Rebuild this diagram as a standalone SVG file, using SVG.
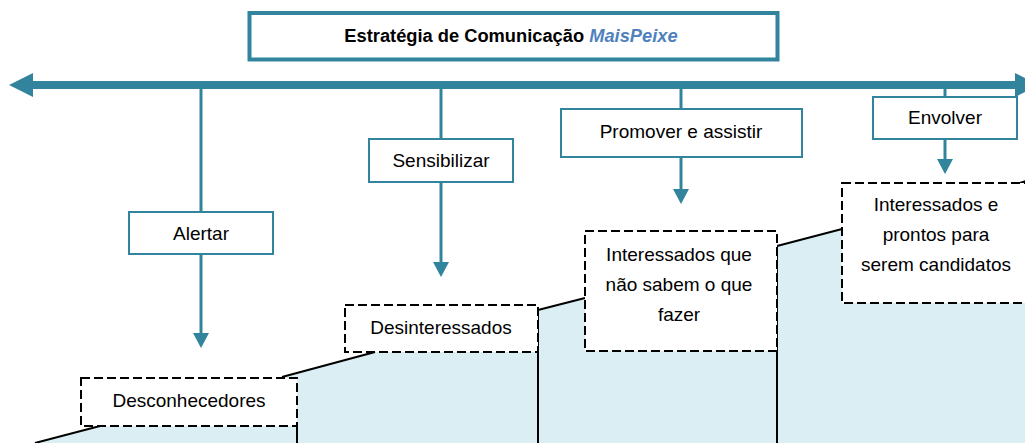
<svg xmlns="http://www.w3.org/2000/svg" width="1025" height="443" viewBox="0 0 1025 443">
<style>
.t{font-family:"Liberation Sans",Arial,sans-serif;font-size:19px;fill:#000;text-anchor:middle}
.tb{font-weight:bold;font-size:18.3px}
.mp{fill:#4F81BD;font-style:italic}
.sbox{fill:#fff;stroke:#31849B;stroke-width:2}
.dbox{fill:#fff;stroke:#000;stroke-width:2;stroke-dasharray:9 4}
.con{stroke:#31849B;stroke-width:3;fill:none}
.step{stroke:#000;stroke-width:2;fill:none}
</style>
<defs>
<marker id="ah" markerUnits="userSpaceOnUse" markerWidth="15" markerHeight="16" viewBox="0 0 15 16" refX="0" refY="8" orient="auto">
<path d="M0,0 L15,8 L0,16 Z" fill="#31849B"/>
</marker>
</defs>
<rect width="1025" height="443" fill="#fff"/>
<g id="steps">
<polygon fill="#DAEEF3" points="35,443 100,426 282,426 282,377 375,352 538,352 538,310 585,298 777,298 777,246 842,229 1020,229 1020,183 1025,181 1025,443"/>
<path class="step" d="M35,443 L100,426 M297,426 V443 M282,377 L375,352 M538,310 V443 M538,310 L585,298 M777,246 V443 M777,246 L842,229 M1020,183 L1026,181"/>
</g>
<g id="connectors">
<rect x="33" y="81" width="982" height="8" fill="#31849B"/>
<polygon points="9,85 33,73 33,97" fill="#31849B"/>
<polygon points="1015,73 1039,85 1015,97" fill="#31849B"/>
<line class="con" x1="201" y1="89" x2="201" y2="212"/>
<line class="con" x1="201" y1="254" x2="201" y2="333" marker-end="url(#ah)"/>
<line class="con" x1="441" y1="89" x2="441" y2="139"/>
<line class="con" x1="441" y1="182" x2="441" y2="262" marker-end="url(#ah)"/>
<line class="con" x1="681" y1="89" x2="681" y2="109"/>
<line class="con" x1="681" y1="157" x2="681" y2="189" marker-end="url(#ah)"/>
<line class="con" x1="945" y1="89" x2="945" y2="97"/>
<line class="con" x1="945" y1="139" x2="945" y2="159" marker-end="url(#ah)"/>
<line x1="1017" y1="89" x2="1017" y2="97" stroke="#31849B" stroke-width="2"/>
</g>
<g id="title">
<rect x="249.5" y="13" width="528" height="46.5" fill="#fff" stroke="#31849B" stroke-width="4"/>
<text class="t tb" x="511" y="42">Estratégia de Comunicação <tspan class="mp">MaisPeixe</tspan></text>
</g>
<g id="alertar">
<rect class="sbox" x="129" y="212" width="144" height="42"/>
<text class="t" x="201" y="240">Alertar</text>
</g>
<g id="sensibilizar">
<rect class="sbox" x="369" y="139" width="144" height="43"/>
<text class="t" x="441" y="167">Sensibilizar</text>
</g>
<g id="promover">
<rect class="sbox" x="561" y="109" width="241" height="48"/>
<text class="t" x="681" y="138">Promover e assistir</text>
</g>
<g id="envolver">
<rect class="sbox" x="873" y="97" width="144" height="42"/>
<text class="t" x="945" y="124">Envolver</text>
</g>
<g id="desconhecedores">
<rect class="dbox" x="81" y="378" width="216" height="48"/>
<text class="t" x="189" y="407">Desconhecedores</text>
</g>
<g id="desinteressados">
<rect class="dbox" x="345" y="305" width="193" height="47"/>
<text class="t" x="441" y="334">Desinteressados</text>
</g>
<g id="interessados-que">
<rect class="dbox" x="585" y="231" width="192" height="120"/>
<text class="t" x="679" y="261">Interessados que</text>
<text class="t" x="679" y="291">não sabem o que</text>
<text class="t" x="679" y="321">fazer</text>
</g>
<g id="interessados-prontos">
<rect class="dbox" x="842" y="183" width="186" height="120"/>
<text class="t" x="936" y="211">Interessados e</text>
<text class="t" x="936" y="241">prontos para</text>
<text class="t" x="936" y="271">serem candidatos</text>
</g>
</svg>
